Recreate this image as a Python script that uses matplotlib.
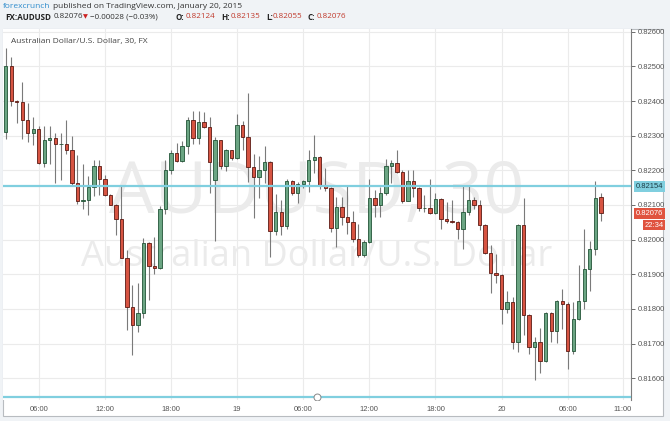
import matplotlib
matplotlib.use("Agg")
import matplotlib.pyplot as plt
from matplotlib.patches import Rectangle
import numpy as np
import pandas as pd

# AUDUSD 30 min candles
opens = [0.82311, 0.82501, 0.82400, 0.82396, 0.82345, 0.82309, 0.82318, 0.82220, 0.82287, 0.82294,
         0.82275, 0.82275, 0.82260, 0.82164, 0.82112, 0.82114, 0.82153, 0.82212, 0.82176, 0.82130,
         0.82101, 0.82059, 0.81948, 0.81805, 0.81754, 0.81789, 0.81991, 0.81923, 0.81918, 0.82087,
         0.82200, 0.82249, 0.82227, 0.82270, 0.82345, 0.82292, 0.82339, 0.82325, 0.82171, 0.82287,
         0.82212, 0.82258, 0.82236, 0.82330, 0.82297, 0.82210, 0.82181, 0.82200, 0.82224, 0.82025,
         0.82080, 0.82039, 0.82169, 0.82136, 0.82160, 0.82169, 0.82230, 0.82239, 0.82159, 0.82150,
         0.82034, 0.82094, 0.82064, 0.82050, 0.82003, 0.81957, 0.81992, 0.82119, 0.82100, 0.82136,
         0.82212, 0.82220, 0.82196, 0.82112, 0.82169, 0.82150, 0.82090, 0.82090, 0.82076, 0.82116,
         0.82059, 0.82055, 0.82052, 0.82030, 0.82079, 0.82114, 0.82100, 0.82042, 0.81960, 0.81904,
         0.81898, 0.81801, 0.81820, 0.81704, 0.82043, 0.81782, 0.81690, 0.81704, 0.81650, 0.81789,
         0.81736, 0.81822, 0.81815, 0.81678, 0.81770, 0.81822, 0.81916, 0.81974, 0.82124]
highs = [0.82552, 0.82526, 0.82402, 0.82454, 0.82393, 0.82353, 0.82328, 0.82328, 0.82328, 0.82308,
         0.82308, 0.82345, 0.82299, 0.82244, 0.82218, 0.82183, 0.82231, 0.82229, 0.82186, 0.82133,
         0.82104, 0.82157, 0.81970, 0.81868, 0.81875, 0.82006, 0.81993, 0.82008, 0.82097, 0.82231,
         0.82260, 0.82280, 0.82284, 0.82353, 0.82371, 0.82371, 0.82367, 0.82353, 0.82297, 0.82289,
         0.82263, 0.82260, 0.82362, 0.82342, 0.82424, 0.82246, 0.82242, 0.82270, 0.82226, 0.82133,
         0.82114, 0.82176, 0.82173, 0.82167, 0.82172, 0.82260, 0.82301, 0.82241, 0.82206, 0.82153,
         0.82123, 0.82123, 0.82154, 0.82082, 0.82046, 0.81998, 0.82176, 0.82143, 0.82153, 0.82234,
         0.82231, 0.82260, 0.82200, 0.82200, 0.82200, 0.82153, 0.82128, 0.82176, 0.82135, 0.82119,
         0.82110, 0.82114, 0.82053, 0.82154, 0.82154, 0.82123, 0.82114, 0.82045, 0.81984, 0.81958,
         0.81900, 0.81851, 0.81835, 0.82046, 0.82121, 0.81785, 0.81720, 0.81744, 0.81791, 0.81791,
         0.81825, 0.81856, 0.81820, 0.81820, 0.81926, 0.82030, 0.81996, 0.82169, 0.82135]
lows = [0.82290, 0.82386, 0.82338, 0.82290, 0.82282, 0.82273, 0.82218, 0.82210, 0.82218, 0.82162,
        0.82173, 0.82246, 0.82154, 0.82104, 0.82088, 0.82070, 0.82125, 0.82128, 0.82125, 0.82099,
        0.82014, 0.81946, 0.81740, 0.81666, 0.81733, 0.81775, 0.81827, 0.81900, 0.81916, 0.82075,
        0.82189, 0.82224, 0.82224, 0.82247, 0.82275, 0.82275, 0.82321, 0.82135, 0.81996, 0.82205,
        0.82198, 0.82231, 0.82233, 0.82258, 0.82167, 0.82061, 0.82119, 0.82162, 0.81950, 0.82012,
        0.82012, 0.82032, 0.82128, 0.82107, 0.82148, 0.82138, 0.82191, 0.82145, 0.82140, 0.82022,
        0.81979, 0.82041, 0.82015, 0.81993, 0.81950, 0.81950, 0.81990, 0.82066, 0.82066, 0.82128,
        0.82164, 0.82191, 0.82107, 0.82112, 0.82124, 0.82083, 0.82080, 0.82074, 0.82073, 0.82030,
        0.82047, 0.82049, 0.82003, 0.81972, 0.82070, 0.82087, 0.82027, 0.81958, 0.81846, 0.81875,
        0.81756, 0.81788, 0.81683, 0.81677, 0.81725, 0.81671, 0.81596, 0.81616, 0.81647, 0.81704,
        0.81701, 0.81743, 0.81627, 0.81670, 0.81768, 0.81799, 0.81851, 0.81957, 0.82055]
closes = [0.82501, 0.82400, 0.82396, 0.82345, 0.82308, 0.82318, 0.82220, 0.82287, 0.82294, 0.82275,
          0.82276, 0.82260, 0.82164, 0.82112, 0.82113, 0.82153, 0.82212, 0.82176, 0.82130, 0.82101,
          0.82059, 0.81948, 0.81805, 0.81754, 0.81789, 0.81991, 0.81923, 0.81918, 0.82087, 0.82200,
          0.82249, 0.82227, 0.82270, 0.82345, 0.82292, 0.82339, 0.82325, 0.82224, 0.82287, 0.82212,
          0.82258, 0.82236, 0.82330, 0.82297, 0.82210, 0.82181, 0.82200, 0.82224, 0.82025, 0.82080,
          0.82039, 0.82169, 0.82136, 0.82160, 0.82169, 0.82230, 0.82239, 0.82159, 0.82150, 0.82034,
          0.82094, 0.82064, 0.82050, 0.82003, 0.81957, 0.81992, 0.82119, 0.82100, 0.82136, 0.82212,
          0.82220, 0.82196, 0.82112, 0.82169, 0.82150, 0.82090, 0.82091, 0.82076, 0.82116, 0.82059,
          0.82055, 0.82052, 0.82030, 0.82079, 0.82114, 0.82100, 0.82042, 0.81960, 0.81904, 0.81898,
          0.81801, 0.81820, 0.81704, 0.82043, 0.81782, 0.81690, 0.81704, 0.81651, 0.81789, 0.81736,
          0.81822, 0.81815, 0.81678, 0.81770, 0.81822, 0.81916, 0.81974, 0.82121, 0.82076]

first_bar = pd.Timestamp("2015-01-18 03:00")
tick_times = ["2015-01-18 06:00", "2015-01-18 12:00", "2015-01-18 18:00", "2015-01-19 00:00",
              "2015-01-19 06:00", "2015-01-19 12:00", "2015-01-19 18:00", "2015-01-20 00:00",
              "2015-01-20 06:00", "2015-01-20 11:00"]
tick_labels = ["06:00", "12:00", "18:00", "19", "06:00", "12:00", "18:00", "20", "06:00", "11:00"]
price_ticks = [0.816, 0.817, 0.818, 0.819, 0.820, 0.821, 0.822, 0.823, 0.824, 0.825, 0.826]
hline_price = 0.82154
low_line_price = 0.81546
last_price = 0.82076

W, H = 670, 421
up_col, up_edge = "#6ba583", "#225437"
dn_col, dn_edge = "#d75442", "#5b1a13"
cyan = "#80cfdf"

fig = plt.figure(figsize=(W / 100, H / 100), dpi=100)
fig.patch.set_facecolor("#f0f3f6")

def fx(px):
    return px / W

def fy(py):
    return 1 - py / H

# chart frame
fig.patches.append(Rectangle((fx(3), fy(416)), fx(660), 387 / H, transform=fig.transFigure,
                             facecolor="white", edgecolor="#b8bcc0", lw=0.8, zorder=-5))

ax = fig.add_axes([fx(3), fy(400), fx(628), 371 / H])
ax.set_zorder(2)
ax.set_facecolor("white")

n = len(opens)
x = np.arange(n)
o = np.array(opens); h = np.array(highs); l = np.array(lows); c = np.array(closes)
up = c >= o

ax.vlines(x, l, h, color="#7a7a7a", lw=0.8, zorder=3)
body_lo = np.minimum(o, c)
body_hi = np.maximum(o, c)
body_h = np.maximum(body_hi - body_lo, 0.000012)
ax.bar(x[up], body_h[up], bottom=body_lo[up], width=0.62, color=up_col, edgecolor=up_edge, lw=0.6, zorder=4)
ax.bar(x[~up], body_h[~up], bottom=body_lo[~up], width=0.62, color=dn_col, edgecolor=dn_edge, lw=0.6, zorder=4)

ax.set_xlim(-0.49, 113.48)
ax.set_ylim(0.81537, 0.82608)

tick_pos = [(pd.Timestamp(t) - first_bar) / pd.Timedelta("30min") for t in tick_times]
ax.set_xticks(tick_pos)
ax.set_xticklabels(tick_labels)
ax.set_yticks(price_ticks)
ax.set_yticklabels(["%.5f" % p for p in price_ticks])
ax.yaxis.tick_right()
ax.tick_params(axis="both", labelsize=5.5, colors="#555555", length=3, width=0.6, pad=1.5,
               labelfontfamily="Liberation Sans")
ax.tick_params(axis="x", length=0, pad=4)
ax.grid(True, color="#ebebeb", lw=0.8, zorder=0)
ax.set_axisbelow(True)
for side in ["top", "left", "bottom"]:
    ax.spines[side].set_visible(False)
ax.spines["right"].set_color("#7d7d7d")
ax.spines["right"].set_linewidth(0.8)

# horizontal drawing lines
ax.axhline(hline_price, color=cyan, lw=1.6, zorder=5)
ax.axhline(low_line_price, color=cyan, lw=1.6, zorder=5)
ax.plot([np.mean(ax.get_xlim())], [low_line_price], "o", ms=5, mfc="white", mec="#888888", mew=0.7, zorder=6)

# watermark
ax.text(0.5, 0.555, "AUDUSD, 30", transform=ax.transAxes, ha="center", va="center",
        fontsize=52, color="#ebebeb", family="Open Sans", zorder=1)
ax.text(0.5, 0.385, "Australian Dollar/U.S. Dollar", transform=ax.transAxes, ha="center", va="center",
        fontsize=26, color="#ebebeb", family="Open Sans", zorder=1)
ax.text(0.012, 0.965, "Australian Dollar/U.S. Dollar, 30, FX", transform=ax.transAxes, ha="left", va="center",
        fontsize=6.0, color="#444444", family="Open Sans", zorder=7)

# price labels on right axis
lab = dict(transform=ax.get_yaxis_transform(), ha="left", va="center", fontsize=5.5,
           family="Liberation Sans", zorder=8, clip_on=False)
ax.text(1.008, hline_price, "%.5f" % hline_price, color="#1d3e46",
        bbox=dict(boxstyle="square,pad=0.25", fc=cyan, ec="none"), **lab)
ax.text(1.008, last_price, "%.5f" % last_price, color="white",
        bbox=dict(boxstyle="square,pad=0.25", fc="#e0533f", ec="none"), **lab)
ax.text(1.022, last_price - 0.00034, "22:34", color="white",
        bbox=dict(boxstyle="square,pad=0.2", fc="#e0533f", ec="none"), **lab)

# header
hf = "Open Sans"
fig.text(fx(3), fy(6.5), "forexcrunch", color="#2f8ccc", fontsize=6.0, family=hf, va="center")
fig.text(fx(53), fy(6.5), "published on TradingView.com, January 20, 2015", color="#333333", fontsize=6.0,
         family=hf, va="center")
y2 = fy(17)
fig.text(fx(5), y2, "FX:AUDUSD", color="#222222", fontsize=5.8, family=hf, weight="bold", va="center")
fig.text(fx(54), y2, "%.5f" % last_price, color="#333333", fontsize=5.8, family=hf, va="center")
fig.text(fx(83), y2, "▼", color="#cc2222", fontsize=4.6, family="DejaVu Sans", va="center")
fig.text(fx(90), y2, "\u22120.00028 (\u22120.03%)", color="#333333", fontsize=5.8, family=hf, va="center")
for px, key, val in [(176, "O:", 0.82124), (221, "H:", 0.82135), (266, "L:", 0.82055), (307, "C:", 0.82076)]:
    fig.text(fx(px), y2, key, color="#222222", fontsize=5.8, family=hf, weight="bold", va="center")
    fig.text(fx(px + 9.5 if key != "L:" else px + 7), y2, "%.5f" % val, color="#c0392b", fontsize=5.8,
             family=hf, va="center")

fig.savefig("out.png", dpi=100, facecolor=fig.get_facecolor())
